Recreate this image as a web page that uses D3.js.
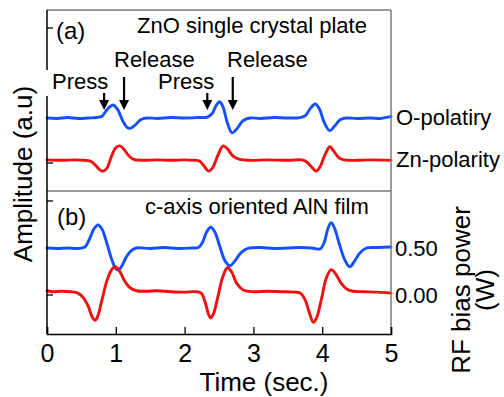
<!DOCTYPE html>
<html>
<head>
<meta charset="utf-8">
<script src="https://cdn.jsdelivr.net/npm/d3@7/dist/d3.min.js"></script>
<style>
  body { margin: 0; background: #fff; }
  text { font-family: "Liberation Sans", Arial, sans-serif; fill: #000; }
</style>
</head>
<body>
<svg id="chart" width="504" height="397"></svg>
<script>
// ---- data ----------------------------------------------------------
const timeTicks = [0, 1, 2, 3, 4, 5];
const rfTicks = [0.0, 0.5];
const panelATicks = [0, 0.5, 1.0, 1.5];
const panelBTicks = [0, 0.5, 1.0];

// (a) ZnO single crystal plate, [time (s), amplitude]
const oPolarity = [
  [0,0.50],[0.15,0.495],[0.3,0.505],[0.45,0.495],[0.6,0.50],[0.72,0.505],[0.8,0.52],
  [0.88,0.6],[0.96,0.645],[1.03,0.59],[1.1,0.47],[1.16,0.40],[1.21,0.385],[1.28,0.42],
  [1.36,0.48],[1.45,0.50],[1.6,0.495],[1.8,0.505],[2.0,0.50],[2.2,0.505],[2.33,0.51],
  [2.4,0.55],[2.46,0.64],[2.51,0.68],[2.56,0.62],[2.62,0.45],[2.69,0.335],[2.76,0.38],
  [2.85,0.47],[2.95,0.50],[3.1,0.495],[3.3,0.505],[3.5,0.50],[3.68,0.505],[3.76,0.53],
  [3.83,0.61],[3.90,0.655],[3.96,0.6],[4.03,0.45],[4.11,0.36],[4.18,0.41],[4.26,0.48],
  [4.35,0.50],[4.5,0.495],[4.7,0.50],[4.85,0.495],[4.95,0.51],[5.0,0.515]
];
const znPolarity = [
  [0,0.035],[0.2,0.03],[0.4,0.035],[0.55,0.03],[0.63,0.02],[0.7,-0.02],[0.76,-0.07],
  [0.81,-0.09],[0.87,-0.06],[0.93,0.06],[1.0,0.17],[1.06,0.19],[1.12,0.15],[1.19,0.08],
  [1.26,0.04],[1.4,0.03],[1.6,0.035],[1.8,0.03],[2.0,0.035],[2.15,0.03],[2.22,0.02],
  [2.28,-0.03],[2.35,-0.09],[2.41,-0.05],[2.48,0.08],[2.56,0.19],[2.62,0.16],[2.70,0.08],
  [2.80,0.04],[2.95,0.03],[3.2,0.035],[3.5,0.03],[3.7,0.035],[3.76,0.02],[3.84,-0.04],
  [3.91,-0.09],[3.97,-0.04],[4.04,0.09],[4.11,0.18],[4.17,0.13],[4.24,0.06],[4.32,0.035],
  [4.5,0.03],[4.7,0.035],[5.0,0.03]
];

// (b) c-axis oriented AlN film, [time (s), RF bias power (W)]
const alnUpper = [
  [0,0.50],[0.15,0.495],[0.3,0.50],[0.45,0.495],[0.55,0.51],[0.62,0.6],[0.68,0.70],
  [0.74,0.745],[0.80,0.70],[0.87,0.55],[0.94,0.38],[1.0,0.28],[1.03,0.265],[1.08,0.30],
  [1.15,0.40],[1.22,0.47],[1.30,0.50],[1.5,0.495],[1.7,0.505],[1.9,0.495],[2.1,0.50],
  [2.2,0.505],[2.26,0.56],[2.32,0.67],[2.38,0.72],[2.44,0.67],[2.51,0.52],[2.59,0.36],
  [2.66,0.31],[2.73,0.36],[2.82,0.45],[2.92,0.495],[3.1,0.505],[3.3,0.495],[3.5,0.50],
  [3.7,0.505],[3.85,0.50],[3.97,0.49],[4.03,0.56],[4.08,0.70],[4.13,0.77],[4.18,0.71],
  [4.25,0.54],[4.33,0.37],[4.40,0.30],[4.47,0.36],[4.55,0.45],[4.65,0.50],[4.8,0.505],
  [5.0,0.51]
];
const alnLower = [
  [0,0.045],[0.08,0.035],[0.2,0.04],[0.35,0.035],[0.45,0.02],[0.53,-0.03],[0.60,-0.12],
  [0.66,-0.24],[0.70,-0.27],[0.74,-0.22],[0.80,-0.05],[0.87,0.15],[0.94,0.27],[0.99,0.30],
  [1.05,0.26],[1.12,0.16],[1.20,0.08],[1.30,0.045],[1.45,0.04],[1.6,0.045],[1.8,0.035],
  [2.0,0.03],[2.15,0.035],[2.24,0.02],[2.30,-0.08],[2.35,-0.21],[2.38,-0.245],[2.42,-0.20],
  [2.48,-0.03],[2.55,0.18],[2.62,0.29],[2.68,0.25],[2.76,0.12],[2.86,0.05],[3.0,0.035],
  [3.2,0.04],[3.4,0.035],[3.6,0.03],[3.68,0.02],[3.75,-0.05],[3.81,-0.18],[3.87,-0.29],
  [3.92,-0.24],[3.99,-0.04],[4.06,0.18],[4.13,0.27],[4.20,0.22],[4.28,0.12],[4.36,0.06],
  [4.45,0.04],[4.6,0.035],[4.8,0.03],[5.0,0.02]
];

// arrow annotations (time in s)
const pressTimes = [0.83, 2.33];
const releaseTimes = [1.12, 2.70];

// ---- layout --------------------------------------------------------
const svg = d3.select("#chart");
const L = 47, R = 391, TOP = 10, MID = 191, BOT = 334;
const BLUE = "#1450ff", RED = "#f01010", FRAME = "#7a7a7a";
const FONT = '"Liberation Sans", Arial, sans-serif';

const x = d3.scaleLinear().domain([0, 5]).range([L, R]);
const yA = d3.scaleLinear().domain([-0.311, 1.7]).range([MID, TOP]);
const yB = d3.scaleLinear().domain([-0.415, 1.106]).range([BOT, MID]);

// left inner ticks
function leftTicks(scale, vals) {
  svg.append("g").selectAll("line").data(vals).join("line")
    .attr("x1", L).attr("x2", L + 6)
    .attr("y1", d => scale(d)).attr("y2", d => scale(d))
    .attr("stroke", "#000").attr("stroke-width", 1.3);
}
leftTicks(yA, panelATicks);
leftTicks(yB, panelBTicks);

// curves
const lineA = d3.line().x(d => x(d[0])).y(d => yA(d[1])).curve(d3.curveCatmullRom.alpha(0.5));
const lineB = d3.line().x(d => x(d[0])).y(d => yB(d[1])).curve(d3.curveCatmullRom.alpha(0.5));
const traces = [
  [oPolarity, lineA, BLUE], [znPolarity, lineA, RED],
  [alnUpper, lineB, BLUE], [alnLower, lineB, RED]
];
traces.forEach(([data, gen, col]) => {
  svg.append("path").datum(data).attr("d", gen)
    .attr("fill", "none").attr("stroke", col)
    .attr("stroke-width", 2.9).attr("stroke-linejoin", "round").attr("stroke-linecap", "round");
});

// frame: top, right and panel divider in grey
svg.append("line").attr("x1", L).attr("x2", R).attr("y1", TOP).attr("y2", TOP)
  .attr("stroke", FRAME).attr("stroke-width", 1.5);
svg.append("line").attr("x1", R).attr("x2", R).attr("y1", TOP).attr("y2", BOT)
  .attr("stroke", FRAME).attr("stroke-width", 1.5);
svg.append("line").attr("x1", L).attr("x2", R).attr("y1", MID).attr("y2", MID)
  .attr("stroke", FRAME).attr("stroke-width", 1.5);

// left axis line
svg.append("line").attr("x1", L).attr("x2", L).attr("y1", TOP).attr("y2", BOT)
  .attr("stroke", "#000").attr("stroke-width", 1.5);

// bottom time axis (ticks inward)
const xAxis = svg.append("g").attr("transform", `translate(0,${BOT})`)
  .call(d3.axisBottom(x).tickValues(timeTicks).tickSize(-7).tickPadding(10).tickFormat(d3.format("d")));
xAxis.select(".domain").attr("stroke", "#000").attr("stroke-width", 1.5);
xAxis.selectAll(".tick line").attr("stroke", "#000").attr("stroke-width", 1.3);
xAxis.selectAll("text").attr("font-size", 25).attr("font-family", FONT).attr("fill", "#000");

// right RF bias power axis for panel (b)
const rAxis = svg.append("g").attr("transform", `translate(${R},0)`)
  .call(d3.axisRight(yB).tickValues(rfTicks).tickSize(0).tickPadding(4).tickFormat(d3.format(".2f")));
rAxis.select(".domain").remove();
rAxis.selectAll("text").attr("font-size", 22).attr("font-family", FONT).attr("fill", "#000");

// axis titles
svg.append("text").attr("x", 264).attr("y", 391).attr("text-anchor", "middle")
  .attr("font-size", 26).text("Time (sec.)");
svg.append("text").attr("transform", "translate(32,174) rotate(-90)")
  .attr("text-anchor", "middle").attr("font-size", 26).text("Amplitude (a.u)");
svg.append("text").attr("transform", "translate(470,290) rotate(-90)")
  .attr("text-anchor", "middle").attr("font-size", 26).text("RF bias power");
svg.append("text").attr("transform", "translate(494,290) rotate(-90)")
  .attr("text-anchor", "middle").attr("font-size", 26).text("(W)");

// panel labels
svg.append("text").attr("x", 56).attr("y", 39).attr("font-size", 24).text("(a)");
svg.append("text").attr("x", 57).attr("y", 225).attr("font-size", 24).text("(b)");
svg.append("text").attr("x", 137).attr("y", 33).attr("font-size", 22).text("ZnO single crystal plate");
svg.append("text").attr("x", 145).attr("y", 214).attr("font-size", 22).text("c-axis oriented AlN film");

// series labels
svg.append("text").attr("x", 396).attr("y", 125).attr("font-size", 22).text("O-polatiry");
svg.append("text").attr("x", 396).attr("y", 167).attr("font-size", 22).text("Zn-polarity");

// press / release annotations; first label sits on a white box over the axis
svg.append("rect").attr("x", 42).attr("y", 70).attr("width", 12).attr("height", 26).attr("fill", "#fff");
const pressLabelX = [52, 158];
const releaseLabelX = [114, 227];
pressLabelX.forEach(px => svg.append("text").attr("x", px).attr("y", 89).attr("font-size", 22).text("Press"));
releaseLabelX.forEach(px => svg.append("text").attr("x", px).attr("y", 67).attr("font-size", 22).text("Release"));

function arrow(t, yStart, yTip) {
  const cx = x(t);
  svg.append("line").attr("x1", cx).attr("x2", cx).attr("y1", yStart).attr("y2", yTip - 8)
    .attr("stroke", "#000").attr("stroke-width", 2.2);
  svg.append("path")
    .attr("d", `M${cx - 5},${yTip - 10} L${cx + 5},${yTip - 10} L${cx},${yTip} Z`)
    .attr("fill", "#000");
}
pressTimes.forEach(t => arrow(t, 93, 110));
releaseTimes.forEach(t => arrow(t, 77, 110));
</script>
</body>
</html>
